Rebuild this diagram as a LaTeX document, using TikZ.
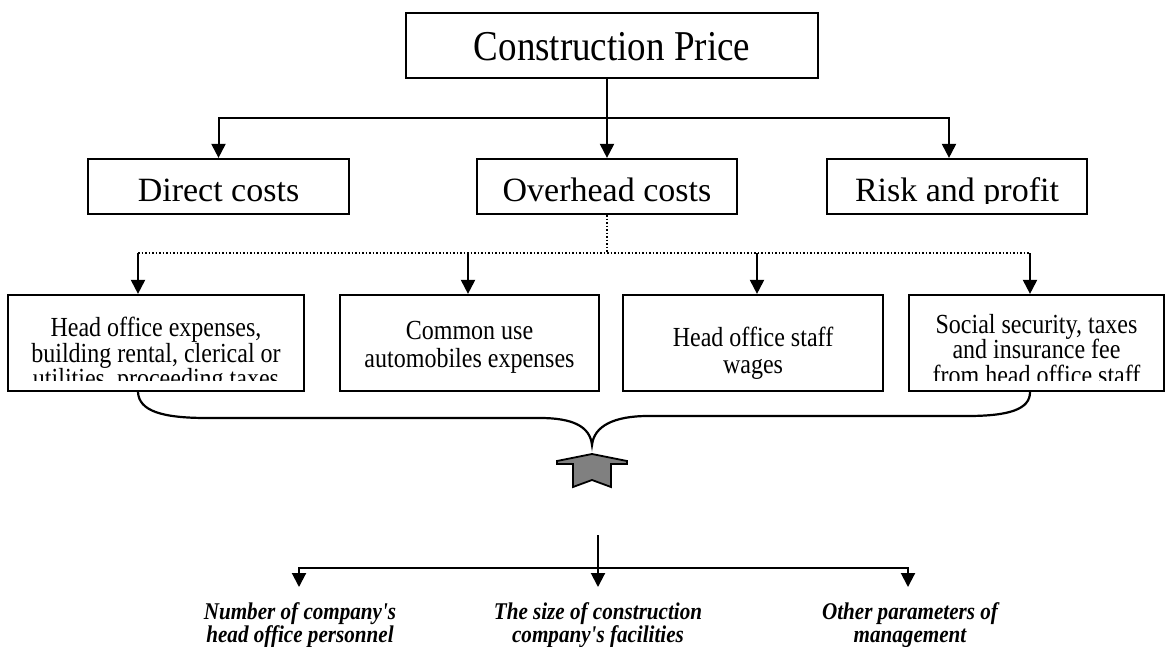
\documentclass[tikz,border=0pt]{standalone}
\usepackage{fontspec}
\setmainfont{Liberation Serif}
\newfontfamily\labfont[FakeStretch=0.88]{Liberation Serif}
\newfontfamily\narrowfont[FakeStretch=0.87]{Liberation Serif}
\usetikzlibrary{arrows.meta}
\begin{document}
\begin{tikzpicture}[x=1pt,y=-1pt,
  box/.style={draw, line width=2.2pt, inner sep=0pt},
  conn/.style={line width=2pt},
  arr/.style={line width=2pt, -{Triangle[width=14pt,length=14pt]}},
  dots/.style={line width=1.7pt, dash pattern=on 1.7pt off 1.8pt},
  bigtxt/.style={inner sep=0pt, font=\narrowfont\fontsize{42.5}{44}\selectfont},
  midtxt/.style={inner sep=0pt, font=\fontsize{34}{36}\selectfont},
  smalltxt/.style={inner sep=0pt, align=center},
  labtxt/.style={inner sep=0pt, align=center, font=\labfont\bfseries\itshape\fontsize{24}{23}\selectfont}
]
\useasboundingbox (0,0) rectangle (1166,646);

% top box
\node[box, minimum width=412pt, minimum height=65pt] (cp) at (612,45.5) {};
\node[bigtxt, anchor=base] (cpt) at (612,60) {Construction Price};

% first row
\node[box, minimum width=261pt, minimum height=55pt] (dc) at (218.5,186.5) {};
\node[box, minimum width=260pt, minimum height=55pt] (oh) at (607,186.5) {};
\node[box, minimum width=260pt, minimum height=55pt] (rp) at (957,186.5) {};
\begin{scope}
\clip (0,150) rectangle (1166,203);
\node[midtxt, anchor=base] (dct) at (218.5,201) {Direct costs};
\node[midtxt, anchor=base] (oht) at (607,201) {Overhead costs};
\node[midtxt, anchor=base] (rpt) at (957,201) {Risk and profit};
\end{scope}

% second row
\node[box, minimum width=296pt, minimum height=96pt] (b1) at (156,343) {};
\node[box, minimum width=259pt, minimum height=96pt] (b2) at (469.5,343) {};
\node[box, minimum width=260pt, minimum height=96pt] (b3) at (753,343) {};
\node[box, minimum width=255pt, minimum height=96pt] (b4) at (1036.5,343) {};
\begin{scope}
\clip (0,290) rectangle (1166,380);
\node[smalltxt, anchor=north, font=\narrowfont\fontsize{27.6}{25.5}\selectfont] (b1t) at (156,317) {Head office expenses,\\building rental, clerical or\\utilities, proceeding taxes};
\node[smalltxt, anchor=north, font=\narrowfont\fontsize{27.6}{28}\selectfont] (b2t) at (469.5,321) {Common use\\automobiles expenses};
\node[smalltxt, anchor=north, font=\narrowfont\fontsize{27.6}{27}\selectfont] (b3t) at (753,327) {Head office staff\\wages};
\node[smalltxt, anchor=north, font=\narrowfont\fontsize{27.6}{25.5}\selectfont] (b4t) at (1036.5,314) {Social security, taxes\\and insurance fee\\from head office staff};
\end{scope}

% connectors top
\coordinate (j) at (607,118);
\coordinate (r) at (949,118);
\draw[conn] (j |- cp.south) -- (j);
\draw[arr] (j) -| (dc.north);
\draw[arr] (j) -- (oh.north);
\draw[arr] (j) -- (r) -- (r |- rp.north);

% dotted distribution
\coordinate (a1) at (138,253);
\coordinate (a2) at (468,253);
\coordinate (a3) at (757,253);
\coordinate (a4) at (1030,253);
\draw[dots] (a1) -- (a4);
\draw[dots] (oh.south) -- (oh.south |- a1);
\draw[arr] (a1) -- (a1 |- b1.north);
\draw[arr] (a2) -- (a2 |- b2.north);
\draw[arr] (a3) -- (a3 |- b3.north);
\draw[arr] (a4) -- (a4 |- b4.north);

% brace
\coordinate (tip) at (592,445);
\draw[line width=2.2pt] (a1 |- b1.south) .. controls (139,411) and (162,418) .. (207,418)
  -- (540,418) .. controls (572,418) and (590,426) .. (tip)
  .. controls (594,426) and (614,416) .. (648,416)
  -- (967,416) .. controls (1010,416) and (1030,409) .. (a4 |- b4.south);

% grey block arrow
\filldraw[fill={rgb,255:red,128;green,128;blue,128}, line width=1.8pt, line join=miter]
  (557,461) -- (592,454) -- (627,461) -- (627,464) -- (611,464) -- (611,487)
  -- (592,480) -- (573,487) -- (573,464) -- (557,464) -- cycle;

% bottom distribution
\coordinate (src) at (598,535);
\coordinate (split) at (598,568);
\coordinate (t1) at (299,587);
\coordinate (t2) at (598,587);
\coordinate (t3) at (908,587);
\draw[conn] (src) -- (split);
\draw[arr] (split) -| (t1);
\draw[arr] (split) -- (t2);
\draw[arr] (split) -| (t3);

\node[labtxt, anchor=north] (l1) at (300,602) {Number of company's\\head office personnel};
\node[labtxt, anchor=north] (l2) at (598,602) {The size of construction\\company's facilities};
\node[labtxt, anchor=north] (l3) at (910,602) {Other parameters of\\management};
\end{tikzpicture}
\end{document}
